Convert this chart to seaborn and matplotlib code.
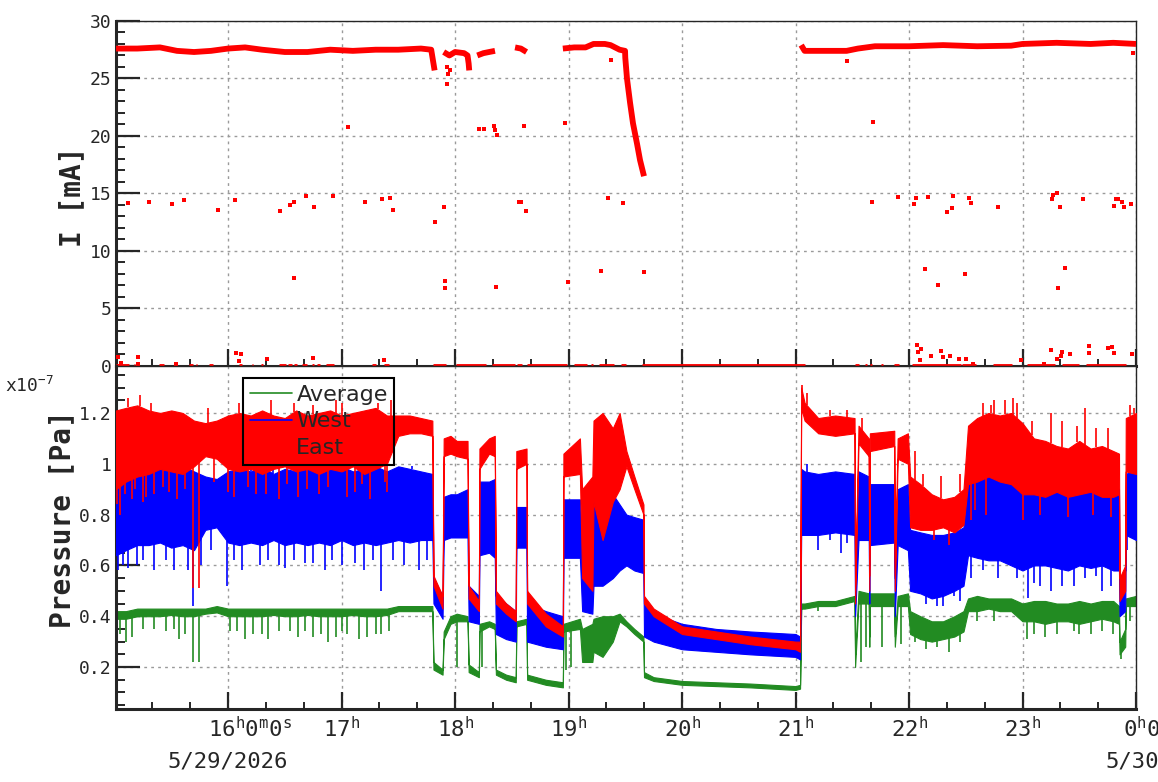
import numpy as np
import pandas as pd
import matplotlib
matplotlib.use("Agg")
import matplotlib.pyplot as plt
import seaborn as sns
from matplotlib.lines import Line2D
from matplotlib.legend_handler import HandlerTuple
from matplotlib.ticker import MultipleLocator, FixedLocator, FuncFormatter

# ---------------- data (time in hours, 24.0 = 0h of 5/30) ----------------
# beam current, main trace (NaN = gap)
cur_t = [15.013, 15.2, 15.4, 15.55, 15.7, 15.85, 16.0, 16.15, 16.3, 16.5, 16.7, 16.9,
         17.1, 17.3, 17.5, 17.7, 17.79, 17.80, 17.82, np.nan,
         17.90, 17.95, 18.0, 18.08, 18.11, 18.12, 18.125, np.nan,
         18.196, 18.25, 18.30, 18.352, np.nan,
         18.529, 18.58, 18.63, np.nan,
         18.95, 19.05, 19.15, 19.22, 19.32, 19.37, 19.45, 19.498, 19.50, 19.515,
         19.542, 19.568, 19.604, 19.630, 19.665, np.nan,
         21.05, 21.08, 21.25, 21.45, 21.55, 21.7, 22.0, 22.3, 22.6, 22.9, 23.0,
         23.3, 23.6, 23.8, 24.0]
cur_v = [27.6, 27.6, 27.7, 27.4, 27.3, 27.4, 27.6, 27.7, 27.5, 27.3, 27.3, 27.5,
         27.4, 27.5, 27.5, 27.6, 27.5, 26.9, 25.7, np.nan,
         27.3, 27.0, 27.3, 27.2, 27.0, 26.3, 25.7, np.nan,
         27.0, 27.2, 27.3, 27.4, np.nan,
         27.7, 27.6, 27.3, np.nan,
         27.6, 27.7, 27.7, 28.0, 28.0, 27.9, 27.5, 27.4, 26.8, 25.0,
         22.9, 21.1, 19.3, 17.9, 16.5, np.nan,
         27.9, 27.4, 27.4, 27.4, 27.6, 27.8, 27.8, 27.9, 27.8, 27.85, 28.0,
         28.1, 28.0, 28.1, 28.0]

# isolated current readings
odd_t = [15.117, 15.303, 15.505, 15.612, 15.912, 16.060, 16.461, 16.546, 16.584, 16.584,
         16.688, 16.760, 16.927, 17.057, 17.208, 17.353, 17.429, 17.457, 17.820, 17.899,
         17.915, 17.915, 17.927, 17.935, 17.956, 17.932, 18.214, 18.258, 18.346, 18.355,
         18.367, 18.360, 18.565, 18.580, 18.610, 18.621, 18.97, 18.997, 19.284, 19.350,
         19.377, 19.483, 19.666, 21.452, 21.680, 21.672, 21.900, 22.041, 22.059, 22.138,
         22.164, 22.252, 22.331, 22.375, 22.384, 22.490, 22.525, 22.543, 22.780, 23.264,
         23.273, 23.308, 23.317, 23.326, 23.378, 23.537, 23.809, 23.82, 23.84, 23.880,
         23.897, 23.959, 23.977,
         15.03, 15.06, 15.21, 15.21, 15.54, 16.07, 16.11, 16.10, 16.34, 16.75, 17.375,
         22.067, 22.103, 22.076, 22.094, 22.191, 22.279, 22.296, 22.358, 22.437, 22.499,
         22.56, 22.991, 23.19, 23.255, 23.308, 23.343, 23.352, 23.422, 23.589, 23.589,
         23.757, 23.79, 23.809, 23.968]
odd_v = [14.2, 14.3, 14.1, 14.4, 13.6, 14.4, 13.5, 14.0, 14.3, 7.65,
         14.8, 13.8, 14.8, 20.8, 14.3, 14.5, 14.6, 13.6, 12.5, 13.8,
         7.4, 6.75, 26.0, 25.4, 25.7, 24.5, 20.6, 20.6, 20.9, 20.5,
         20.1, 6.9, 14.3, 14.3, 20.9, 13.5, 21.1, 7.3, 8.3, 14.6,
         26.6, 14.2, 8.2, 26.5, 21.2, 14.3, 14.7, 14.1, 14.6, 8.4,
         14.7, 7.0, 13.4, 13.7, 14.8, 8.0, 14.6, 14.2, 13.8, 14.5,
         14.9, 15.0, 6.75, 13.8, 8.5, 14.5, 13.9, 14.5, 14.5, 14.3,
         13.8, 14.1, 27.2,
         0.8, 0.3, 0.8, 0.15, 0.15, 1.13, 1.04, 0.42, 0.6, 0.68, 0.5,
         1.8, 1.45, 1.2, 0.56, 0.83, 1.27, 0.74, 0.91, 0.65, 0.65,
         0.2, 0.56, 0.2, 1.36, 0.65, 0.91, 1.18, 1.0, 1.7, 1.1,
         1.53, 1.65, 1.1, 1.0]

# stretches where the current read 0
zero_start = [15.013, 15.17, 15.39, 15.66, 15.72, 15.83, 16.10, 16.21, 16.29, 16.45, 16.53,
              16.58, 16.65, 16.74, 16.78, 16.86, 17.27, 17.32, 17.37, 17.81, 18.01, 18.33,
              18.55, 18.63, 19.05, 19.20, 19.27, 19.46, 19.65, 21.52, 21.61, 21.66, 21.75,
              21.865, 22.03, 22.47, 22.74, 23.04, 23.35, 23.56]
zero_end = [15.13, 15.18, 15.44, 15.69, 15.73, 15.87, 16.12, 16.22, 16.31, 16.51, 16.56,
            16.61, 16.70, 16.76, 16.81, 16.93, 17.30, 17.325, 17.42, 17.92, 18.27, 18.53,
            18.59, 18.99, 19.16, 19.22, 19.40, 19.51, 21.08, 21.56, 21.63, 21.67, 21.77,
            21.915, 22.46, 22.59, 22.91, 23.29, 23.50, 23.91]

# pressure envelopes (units of 1e-7 Pa), one shared time axis
p_t = [15.013, 15.1, 15.2, 15.3, 15.4, 15.5, 15.6, 15.7, 15.8, 15.9,
       16.0, 16.1, 16.2, 16.3, 16.4, 16.5, 16.6, 16.7, 16.8, 16.9,
       17.0, 17.1, 17.2, 17.3, 17.4, 17.5, 17.6, 17.7, 17.80,
       17.81, 17.89, 17.90, 17.96, 18.015, 18.11, 18.12, 18.21, 18.215, 18.30,
       18.35, 18.36, 18.45, 18.535, 18.54, 18.63, 18.635, 18.80, 18.95, 18.955,
       19.10, 19.12, 19.21, 19.22, 19.30, 19.39, 19.45, 19.51, 19.58, 19.66, 19.665,
       19.75, 20.0, 20.3, 20.6, 21.0, 21.04, 21.05, 21.08, 21.20, 21.35,
       21.52, 21.525, 21.555, 21.645, 21.65, 21.655, 21.87, 21.875, 21.90, 21.99,
       22.01, 22.10, 22.20, 22.30, 22.40, 22.48, 22.52, 22.60, 22.70, 22.80,
       22.90, 23.0, 23.1, 23.2, 23.3, 23.4, 23.5, 23.6, 23.7, 23.8,
       23.85, 23.855, 23.905, 23.91, 24.0]

east_lo = [0.90, 0.93, 0.95, 0.96, 0.98, 0.97, 0.96, 0.99, 1.03, 1.02,
           0.98, 0.97, 0.98, 0.96, 0.98, 0.99, 0.97, 0.98, 0.96, 0.98,
           0.97, 0.99, 0.96, 0.98, 1.00, 1.11, 1.12, 1.12, 1.11,
           0.52, 0.43, 1.03, 1.04, 1.03, 1.02, 0.47, 0.42, 0.98, 1.04,
           1.03, 0.45, 0.41, 0.38, 0.98, 1.00, 0.45, 0.36, 0.32, 0.95,
           0.96, 0.55, 0.50, 0.85, 0.70, 0.85, 0.90, 0.99, 0.90, 0.80, 0.45,
           0.40, 0.33, 0.31, 0.29, 0.27, 0.26, 1.22, 1.17, 1.12, 1.11,
           1.12, 0.45, 1.08, 1.03, 0.50, 1.05, 1.07, 0.50, 1.02, 1.00,
           0.75, 0.74, 0.74, 0.75, 0.73, 0.76, 0.92, 0.93, 0.95, 0.93,
           0.92, 0.88, 0.88, 0.87, 0.89, 0.87, 0.88, 0.89, 0.87, 0.87,
           0.88, 0.46, 0.50, 0.97, 0.96]
east_hi = [1.21, 1.22, 1.23, 1.21, 1.20, 1.21, 1.20, 1.17, 1.16, 1.17,
           1.19, 1.20, 1.19, 1.21, 1.19, 1.18, 1.21, 1.19, 1.20, 1.21,
           1.19, 1.20, 1.21, 1.22, 1.19, 1.19, 1.19, 1.18, 1.17,
           0.56, 0.48, 1.10, 1.11, 1.09, 1.09, 0.52, 0.46, 1.06, 1.10,
           1.11, 0.50, 0.45, 0.42, 1.05, 1.06, 0.50, 0.41, 0.36, 1.04,
           1.10, 0.90, 0.95, 1.17, 1.20, 1.14, 1.20, 1.05, 0.95, 0.84, 0.48,
           0.43, 0.36, 0.34, 0.32, 0.30, 0.30, 1.30, 1.24, 1.18, 1.19,
           1.18, 0.52, 1.15, 1.10, 0.56, 1.12, 1.13, 0.56, 1.10, 1.12,
           0.95, 0.92, 0.88, 0.86, 0.87, 0.90, 1.15, 1.18, 1.20, 1.19,
           1.20, 1.16, 1.10, 1.09, 1.07, 1.06, 1.09, 1.06, 1.07, 1.05,
           1.04, 0.55, 0.60, 1.18, 1.20]

west_lo = [0.64, 0.66, 0.68, 0.68, 0.69, 0.67, 0.68, 0.66, 0.74, 0.75,
           0.69, 0.68, 0.69, 0.68, 0.70, 0.68, 0.69, 0.68, 0.69, 0.68,
           0.70, 0.68, 0.69, 0.68, 0.69, 0.70, 0.69, 0.70, 0.70,
           0.45, 0.39, 0.70, 0.71, 0.71, 0.71, 0.38, 0.37, 0.64, 0.65,
           0.63, 0.33, 0.31, 0.30, 0.67, 0.67, 0.30, 0.28, 0.27, 0.63,
           0.63, 0.42, 0.41, 0.52, 0.52, 0.55, 0.58, 0.60, 0.58, 0.57, 0.32,
           0.30, 0.27, 0.26, 0.25, 0.24, 0.23, 0.72, 0.72, 0.72, 0.73,
           0.72, 0.40, 0.70, 0.70, 0.45, 0.68, 0.69, 0.40, 0.68, 0.66,
           0.50, 0.49, 0.47, 0.48, 0.50, 0.52, 0.64, 0.63, 0.62, 0.62,
           0.60, 0.58, 0.60, 0.60, 0.59, 0.58, 0.60, 0.59, 0.60, 0.58,
           0.58, 0.40, 0.42, 0.72, 0.70]
west_hi = [0.95, 0.97, 0.99, 0.98, 0.99, 0.97, 0.99, 0.97, 0.95, 0.94,
           0.97, 0.98, 0.97, 0.99, 0.96, 0.98, 0.97, 0.99, 0.96, 0.98,
           0.99, 0.97, 0.98, 0.99, 0.97, 0.99, 0.98, 0.97, 0.96,
           0.55, 0.48, 0.87, 0.88, 0.88, 0.90, 0.52, 0.48, 0.93, 0.93,
           0.94, 0.48, 0.45, 0.42, 0.83, 0.83, 0.45, 0.42, 0.40, 0.86,
           0.86, 0.67, 0.67, 0.90, 0.91, 0.88, 0.84, 0.80, 0.79, 0.78, 0.45,
           0.41, 0.37, 0.35, 0.34, 0.33, 0.32, 0.98, 0.97, 0.96, 0.97,
           0.96, 0.60, 0.97, 0.95, 0.60, 0.92, 0.92, 0.55, 0.90, 0.92,
           0.74, 0.73, 0.72, 0.72, 0.73, 0.75, 0.95, 0.96, 0.97, 0.95,
           0.95, 0.94, 0.92, 0.92, 0.93, 0.93, 0.92, 0.92, 0.93, 0.93,
           0.90, 0.55, 0.58, 0.96, 0.98]

avg_lo = [0.39, 0.39, 0.40, 0.40, 0.40, 0.405, 0.40, 0.40, 0.41, 0.415,
          0.40, 0.40, 0.40, 0.40, 0.405, 0.40, 0.40, 0.405, 0.40, 0.40,
          0.40, 0.405, 0.40, 0.40, 0.405, 0.42, 0.42, 0.42, 0.42,
          0.19, 0.17, 0.31, 0.37, 0.38, 0.38, 0.18, 0.16, 0.34, 0.36,
          0.35, 0.17, 0.15, 0.14, 0.36, 0.37, 0.15, 0.13, 0.12, 0.34,
          0.35, 0.22, 0.22, 0.26, 0.24, 0.30, 0.38, 0.36, 0.33, 0.30, 0.16,
          0.145, 0.13, 0.125, 0.12, 0.11, 0.115, 0.43, 0.43, 0.44, 0.44,
          0.46, 0.20, 0.45, 0.45, 0.28, 0.44, 0.44, 0.28, 0.44, 0.44,
          0.33, 0.31, 0.30, 0.31, 0.32, 0.34, 0.42, 0.42, 0.43, 0.42,
          0.42, 0.38, 0.38, 0.37, 0.38, 0.38, 0.37, 0.38, 0.39, 0.38,
          0.37, 0.25, 0.28, 0.44, 0.44]
avg_hi = [0.42, 0.42, 0.43, 0.43, 0.43, 0.43, 0.43, 0.43, 0.43, 0.44,
          0.43, 0.43, 0.43, 0.43, 0.43, 0.43, 0.43, 0.43, 0.43, 0.43,
          0.43, 0.43, 0.43, 0.43, 0.43, 0.44, 0.44, 0.44, 0.44,
          0.22, 0.19, 0.34, 0.40, 0.41, 0.40, 0.21, 0.18, 0.37, 0.38,
          0.37, 0.19, 0.17, 0.16, 0.38, 0.39, 0.17, 0.15, 0.14, 0.37,
          0.39, 0.35, 0.37, 0.39, 0.40, 0.40, 0.41, 0.38, 0.35, 0.32, 0.18,
          0.16, 0.145, 0.14, 0.135, 0.125, 0.13, 0.45, 0.45, 0.46, 0.46,
          0.48, 0.25, 0.50, 0.49, 0.32, 0.49, 0.49, 0.32, 0.48, 0.49,
          0.42, 0.40, 0.38, 0.38, 0.40, 0.42, 0.47, 0.48, 0.47, 0.47,
          0.47, 0.45, 0.46, 0.46, 0.45, 0.45, 0.46, 0.45, 0.46, 0.46,
          0.44, 0.30, 0.35, 0.47, 0.48]

# single readings that stick out of the bands
east_spk_t = [15.02, 15.05, 15.09, 15.12, 15.15, 15.18, 15.22, 15.25, 15.28, 15.32,
              15.35, 15.43, 15.48, 15.55, 15.62, 15.69, 15.74, 15.82, 15.88, 16.0,
              16.05, 16.1, 16.18, 16.25, 16.33, 16.38, 16.45, 16.52, 16.58, 16.62,
              16.7, 16.75, 16.8, 16.88, 16.95, 17.0, 17.05, 17.12, 17.18, 17.25,
              17.32, 17.38, 17.4, 17.44,
              21.06, 21.1, 21.3, 21.45, 21.59, 22.05, 22.12, 22.22, 22.28, 22.35,
              22.45, 22.55, 22.58, 22.65, 22.68, 22.72, 22.75, 22.85, 22.92, 22.95,
              23.0, 23.08, 23.15, 23.25, 23.35, 23.4, 23.48, 23.55, 23.62, 23.65,
              23.75, 23.78, 23.95, 23.98]
east_spk_v = [0.84, 0.80, 0.88, 1.26, 0.86, 0.90, 1.27, 0.85, 0.87, 1.24,
              0.88, 0.91, 0.89, 0.86, 0.90, 0.51, 0.51, 1.22, 0.93, 0.89,
              0.87, 1.24, 0.91, 0.88, 0.88, 1.25, 0.86, 0.92, 1.24, 0.87,
              0.90, 1.23, 0.88, 0.91, 1.25, 1.24, 0.87, 0.89, 0.92, 0.86,
              1.24, 0.93, 0.89, 1.25,
              1.31, 1.28, 1.21, 1.21, 1.18, 1.05, 0.96, 0.70, 0.95, 0.68,
              0.96, 0.78, 0.82, 1.24, 0.80, 1.23, 1.25, 1.25, 1.26, 1.24,
              0.78, 1.17, 0.80, 1.20, 1.17, 0.79, 1.15, 1.22, 0.80, 1.14,
              1.14, 0.79, 1.23, 1.22]
west_spk_t = [15.03, 15.07, 15.12, 15.2, 15.25, 15.3, 15.35, 15.45, 15.52, 15.58,
              15.65, 15.69, 15.76, 15.85, 15.99, 16.05, 16.12, 16.2, 16.28, 16.35,
              16.4, 16.45, 16.5, 16.58, 16.62, 16.68, 16.75, 16.85, 16.92, 17.0,
              17.05, 17.12, 17.2, 17.28, 17.35, 17.45, 17.55, 17.62, 17.68, 17.75,
              21.1, 21.2, 21.3, 21.4, 21.45, 22.05, 22.15, 22.25, 22.3, 22.4,
              22.45, 22.55, 22.6, 22.65, 22.78, 22.85, 22.95, 23.05, 23.1, 23.15,
              23.25, 23.35, 23.45, 23.55, 23.65, 23.7, 23.78, 23.92]
west_spk_v = [0.58, 0.60, 0.59, 0.60, 0.62, 0.99, 0.58, 0.62, 0.58, 0.98,
              0.58, 0.44, 0.60, 0.66, 0.52, 0.62, 0.58, 0.99, 0.60, 0.62,
              0.99, 0.60, 0.59, 0.62, 0.99, 0.61, 0.61, 0.58, 0.62, 0.60,
              0.98, 0.61, 0.58, 0.62, 0.50, 0.62, 0.60, 0.99, 0.58, 0.62,
              1.00, 0.66, 0.70, 0.65, 0.69, 0.50, 0.45, 0.44, 0.44, 0.48,
              0.46, 0.55, 0.99, 0.58, 0.55, 0.98, 0.55, 0.47, 0.53, 0.52,
              0.50, 0.52, 0.52, 0.55, 0.56, 0.50, 0.52, 0.66]
avg_spk_t = [15.05, 15.1, 15.15, 15.25, 15.35, 15.45, 15.52, 15.57, 15.62, 15.69,
             15.74, 16.02, 16.08, 16.15, 16.22, 16.3, 16.35, 16.45, 16.55, 16.62,
             16.68, 16.75, 16.82, 16.88, 16.95, 17.0, 17.05, 17.15, 17.22, 17.3,
             17.35, 17.42, 18.02, 18.24, 18.98, 19.02,
             21.2, 21.58, 21.62, 21.76, 21.93, 22.05, 22.15, 22.25, 22.35, 22.45,
             22.6, 22.75, 23.04, 23.1, 23.2, 23.3, 23.45, 23.5, 23.6, 23.7,
             23.8, 23.87, 23.95]
avg_spk_v = [0.33, 0.30, 0.32, 0.35, 0.35, 0.34, 0.35, 0.31, 0.33, 0.22,
             0.22, 0.34, 0.34, 0.31, 0.33, 0.33, 0.31, 0.34, 0.34, 0.32,
             0.34, 0.32, 0.33, 0.30, 0.32, 0.34, 0.33, 0.31, 0.32, 0.33,
             0.33, 0.34, 0.20, 0.20, 0.19, 0.20,
             0.42, 0.22, 0.28, 0.28, 0.29, 0.30, 0.27, 0.28, 0.26, 0.30,
             0.38, 0.38, 0.31, 0.33, 0.32, 0.33, 0.34, 0.33, 0.33, 0.34,
             0.33, 0.23, 0.38]

hour_ticks = [16, 17, 18, 19, 20, 21, 22, 23, 24]
hour_labels = ["", "17$^{\\rm h}$", "18$^{\\rm h}$", "19$^{\\rm h}$", "20$^{\\rm h}$",
               "21$^{\\rm h}$", "22$^{\\rm h}$", "23$^{\\rm h}$", ""]

# ---------------- style ----------------
sns.set_style("ticks")
plt.rcParams["font.family"] = ["DejaVu Sans Mono", "DejaVu Sans"]
plt.rcParams["mathtext.fontset"] = "custom"
plt.rcParams["mathtext.rm"] = "DejaVu Sans Mono"
plt.rcParams["mathtext.it"] = "DejaVu Sans Mono"

RED, BLUE, GREEN = "#ff0000", "#0000ff", "#228b22"
GRID = dict(color="#9a9a9a", linestyle=(0, (2, 3)), linewidth=1.0)

fig = plt.figure(figsize=(11.58, 7.82), dpi=100)
ax1 = fig.add_axes([0.1002, 0.5320, 0.8808, 0.4412])
ax2 = fig.add_axes([0.1002, 0.0934, 0.8808, 0.4386])

for ax in (ax1, ax2):
    ax.set_xlim(15.013, 24.0)
    ax.set_axisbelow(True)
    ax.xaxis.set_major_locator(FixedLocator(hour_ticks))
    ax.xaxis.set_minor_locator(FixedLocator([h + m / 60 for h in range(15, 24) for m in (20, 40)]))
    ax.grid(True, which="major", **GRID)
    ax.tick_params(axis="x", which="major", direction="in", length=12, width=1.6,
                   top=False, labelsize=16, pad=5)
    ax.tick_params(axis="x", which="minor", direction="in", length=5, width=1.4, top=False)
    ax.tick_params(axis="y", which="major", direction="in", length=17, width=1.6,
                   right=False, labelsize=13, pad=3)
    ax.tick_params(axis="y", which="minor", direction="in", length=6.5, width=1.4, right=False)
    for side in ("left", "bottom"):
        ax.spines[side].set_linewidth(2.2)
    for side in ("top", "right"):
        ax.spines[side].set_linewidth(1.0)

# ---------------- top: current ----------------
ax1.set_ylim(0, 30)
ax1.yaxis.set_major_locator(MultipleLocator(5))
ax1.yaxis.set_minor_locator(MultipleLocator(1))
ax1.tick_params(labelbottom=False)

ax1.plot(cur_t, cur_v, color=RED, lw=4.2, solid_capstyle="butt", zorder=3)
ax1.hlines([0] * len(zero_start), zero_start, zero_end, color=RED, lw=3.5,
           zorder=5, clip_on=False)
sns.scatterplot(x=odd_t, y=odd_v, ax=ax1, marker="s", color=RED, s=10,
                linewidth=0, zorder=5, clip_on=False)
ax1.set_ylabel("I [mA]", fontsize=20, fontweight="bold")
ax1.yaxis.set_label_coords(-0.029, 0.49)

# ---------------- bottom: pressure ----------------
ax2.set_ylim(0.035, 1.385)
ax2.yaxis.set_major_locator(MultipleLocator(0.2))
ax2.yaxis.set_minor_locator(MultipleLocator(0.05))
ax2.yaxis.set_major_formatter(FuncFormatter(lambda v, p: f"{v:g}"))
ax2.xaxis.set_ticklabels(hour_labels)

series = [(avg_lo, avg_hi, avg_spk_t, avg_spk_v, GREEN, 2),
          (west_lo, west_hi, west_spk_t, west_spk_v, BLUE, 3),
          (east_lo, east_hi, east_spk_t, east_spk_v, RED, 4)]
for lo, hi, st, sv, col, z in series:
    ax2.fill_between(p_t, lo, hi, color=col, lw=0.8, edgecolor=col, zorder=z)
    lo_at = np.interp(st, p_t, lo)
    hi_at = np.interp(st, p_t, hi)
    base = np.where(np.array(sv) > hi_at, hi_at, lo_at)
    ax2.vlines(st, base, sv, color=col, lw=1.2, zorder=z)

ax2.set_ylabel("Pressure [Pa]", fontsize=20, fontweight="bold")
ax2.yaxis.set_label_coords(-0.039, 0.554)
fig.text(0.004, 1 - 392 / 782, "x10$^{-7}$", fontsize=13, ha="left", va="baseline")

# time-offset labels at the ends of the axis
for xpos, lab, date, dx_date, ha_date in [(16, "16$^{\\rm h}$0$^{\\rm m}$0$^{\\rm s}$", "5/29/2026", 0, "center"),
                                          (24, "0$^{\\rm h}$0$^{\\rm m}$0$^{\\rm s}$", "5/30/2026", -31, "left")]:
    ax2.annotate(lab, xy=(xpos, 0), xycoords=("data", "axes fraction"), xytext=(22, -7),
                 textcoords="offset pixels", ha="center", va="top", fontsize=16,
                 annotation_clip=False)
    ax2.annotate(date, xy=(xpos, 0), xycoords=("data", "axes fraction"), xytext=(dx_date, -43),
                 textcoords="offset pixels", ha=ha_date, va="top", fontsize=16,
                 annotation_clip=False)

# legend (transparent box with a black frame)
h_avg = Line2D([], [], color=GREEN, lw=1.2)
h_west = Line2D([], [], color=BLUE, lw=1.2)
h_east = (Line2D([], [], color=RED, lw=1.2),
          Line2D([], [], color=RED, marker="|", ms=14, mew=1.2, ls="None"))
leg = ax2.legend([h_avg, h_west, h_east], ["Average", "West", "East"],
                 handler_map={tuple: HandlerTuple(ndivide=1, pad=0)},
                 loc="upper left", bbox_to_anchor=(0.1245, 0.965),
                 prop={"family": "DejaVu Sans", "size": 16},
                 frameon=True, fancybox=False, framealpha=1, facecolor="none",
                 edgecolor="black", handlelength=1.9, handletextpad=0.2,
                 labelspacing=0.3, borderpad=0.3, borderaxespad=0)
leg.get_frame().set_linewidth(1.5)
leg.set_zorder(10)

fig.savefig("out.png", dpi=100)
